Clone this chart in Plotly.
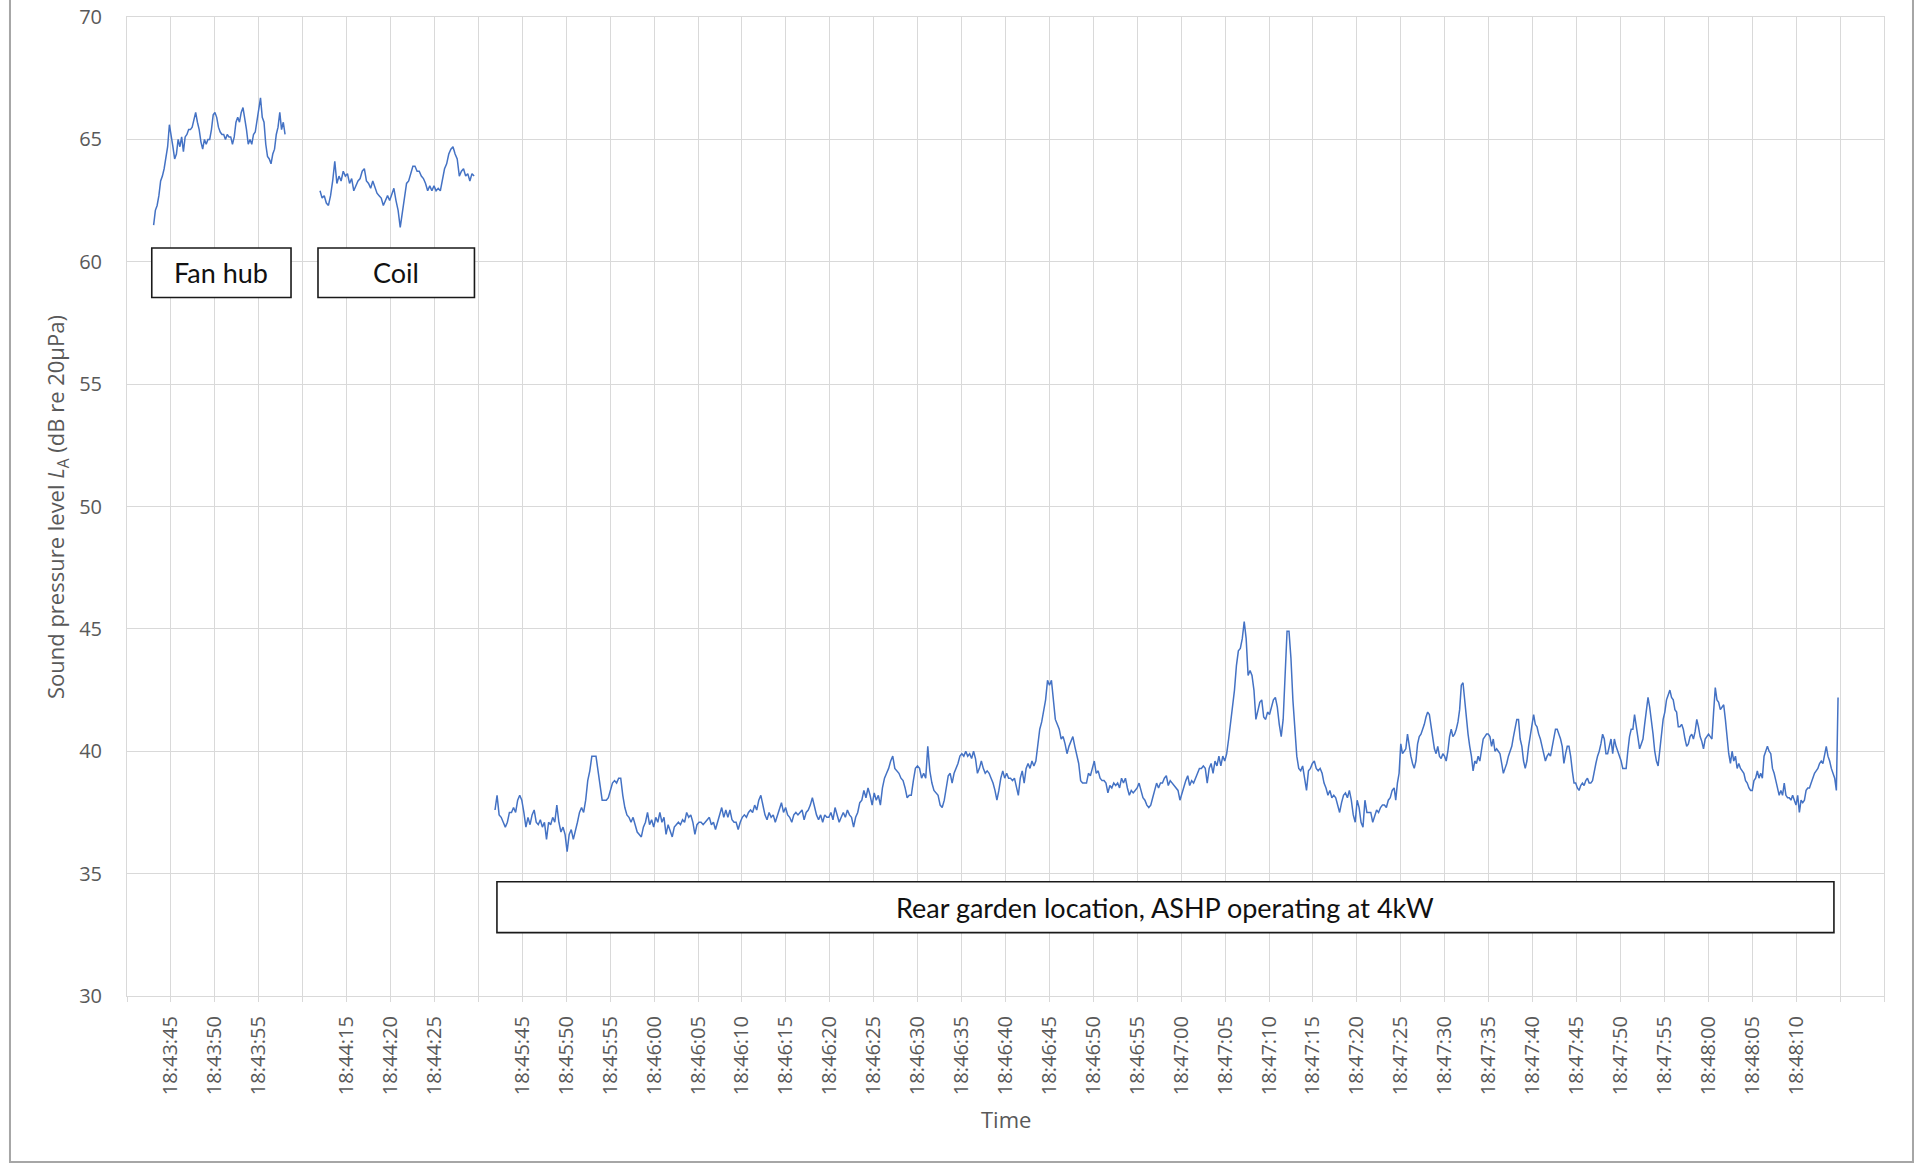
import numpy as np
import plotly.graph_objects as go

# ---------------- data ----------------
# Category-axis tick labels (every 5 s) and the category slot each label sits on
tick_labels = ["18:43:45", "18:43:50", "18:43:55",
               "18:44:15", "18:44:20", "18:44:25",
               "18:45:45", "18:45:50", "18:45:55",
               "18:46:00", "18:46:05", "18:46:10", "18:46:15", "18:46:20", "18:46:25",
               "18:46:30", "18:46:35", "18:46:40", "18:46:45", "18:46:50", "18:46:55",
               "18:47:00", "18:47:05", "18:47:10", "18:47:15", "18:47:20", "18:47:25",
               "18:47:30", "18:47:35", "18:47:40", "18:47:45", "18:47:50", "18:47:55",
               "18:48:00", "18:48:05", "18:48:10"]
tick_slots = [0, 1, 2, 4, 5, 6] + list(range(8, 38))

# Fan hub measurement (s relative to 18:43:45)
fan_time_span = (-1.97, 12.99)
fan_db = [61.5, 62.1, 62.3, 62.7, 63.3, 63.5, 63.8, 64.2, 64.7, 65.6, 65.2, 64.7, 64.2, 64.4,
          65.0, 64.7, 65.1, 64.5, 65.1, 65.2, 65.4, 65.4, 65.5, 65.8, 66.1, 65.7, 65.4, 64.9,
          64.6, 65.0, 64.8, 65.0, 65.0, 65.4, 66.0, 66.1, 65.9, 65.5, 65.3, 65.2, 65.2, 65.0,
          65.2, 65.1, 65.1, 64.8, 65.1, 65.7, 65.9, 65.7, 66.1, 66.3, 65.9, 65.4, 64.8, 65.0,
          64.8, 65.2, 65.3, 65.8, 66.3, 66.7, 65.9, 65.7, 64.8, 64.3, 64.2, 64.0, 64.4, 64.6,
          65.2, 65.5, 66.1, 65.4, 65.7, 65.2]

# Coil measurement (s relative to 18:44:15)
coil_time_span = (-3.03, 14.51)
coil_db = [62.9, 62.6, 62.7, 62.4, 62.3, 62.7, 63.3, 64.1, 63.2, 63.5, 63.3, 63.7, 63.5, 63.6,
           63.2, 63.4, 62.9, 63.1, 63.3, 63.4, 63.7, 63.8, 63.3, 63.2, 63.0, 63.3, 63.0, 62.8,
           62.7, 62.6, 62.3, 62.5, 62.7, 62.5, 62.8, 63.0, 62.5, 62.1, 61.4, 62.0, 62.5, 63.2,
           63.3, 63.6, 63.9, 63.9, 63.7, 63.7, 63.5, 63.4, 63.2, 62.9, 63.1, 62.9, 63.1, 62.9,
           63.0, 62.9, 63.3, 63.8, 64.0, 64.4, 64.6, 64.7, 64.4, 64.2, 63.5, 63.7, 63.8, 63.5,
           63.6, 63.3, 63.6, 63.5]

# Rear garden measurement, in three consecutive stretches (s relative to 18:45:45)
garden_a_span = (-3.11, 48.03)
garden_a_db = [37.6, 38.2, 37.4, 37.3, 37.1, 36.9, 37.1, 37.5, 37.5, 37.7, 37.5, 38.0, 38.2, 38.0,
               37.5, 36.9, 37.3, 37.0, 37.4, 37.6, 37.1, 37.0, 37.2, 36.9, 37.1, 36.4, 37.1, 37.0,
               37.3, 37.1, 37.8, 37.1, 36.7, 36.9, 36.6, 35.9, 36.6, 36.8, 36.4, 36.7, 37.1, 37.5,
               37.7, 37.5, 38.0, 38.8, 39.2, 39.8, 39.8, 39.8, 39.2, 38.5, 38.0, 38.0, 38.0, 38.1,
               38.4, 38.7, 38.8, 38.7, 38.9, 38.9, 38.2, 37.7, 37.4, 37.3, 37.1, 37.3, 37.0, 36.7,
               36.6, 36.5, 36.9, 37.1, 37.5, 37.0, 37.2, 36.9, 37.3, 37.1, 37.5, 37.1, 37.3, 36.6,
               37.0, 36.7, 36.5, 36.9, 37.0, 37.1, 37.0, 37.2, 37.1, 37.5, 37.3, 37.4, 37.1, 36.6,
               37.0, 37.1, 37.1, 37.0, 37.1, 37.2, 37.3, 37.0, 37.1, 36.8, 37.1, 37.5, 37.7, 37.3,
               37.6, 37.3, 37.6, 37.2, 37.1, 37.1, 36.8, 37.1, 37.3, 37.4, 37.3, 37.5, 37.6, 37.5,
               37.8, 37.6, 38.0, 38.2, 37.8, 37.4, 37.2, 37.5, 37.3, 37.4, 37.1, 37.4, 37.6, 37.9,
               37.5, 37.7, 37.4, 37.3, 37.1, 37.4, 37.5, 37.4, 37.5, 37.6, 37.2, 37.5, 37.6, 37.8,
               38.1, 37.7, 37.4, 37.2, 37.4, 37.1, 37.4, 37.3, 37.3, 37.5, 37.2, 37.7, 37.4, 37.1,
               37.3, 37.5, 37.3, 37.6, 37.4, 37.3, 36.9, 37.3, 37.5, 37.9, 38.0, 38.4, 38.1, 38.5,
               38.2, 37.8, 38.3, 38.0, 38.2, 37.8, 38.5, 38.9, 39.1, 39.3, 39.6, 39.8, 39.3, 39.2,
               39.1, 38.9, 38.8, 38.5, 38.1, 38.2, 38.2, 38.8, 39.3, 39.4, 39.3, 38.9, 39.1, 38.9,
               40.2, 39.2, 38.7, 38.4, 38.3, 38.2, 37.8, 37.7, 38.0]
garden_b_span = (48.26, 99.24)
garden_b_db = [38.5, 39.0, 39.1, 38.7, 39.1, 39.3, 39.5, 39.8, 39.9, 39.8, 40.0, 39.8, 39.9, 39.7,
               40.0, 39.7, 39.1, 39.3, 39.6, 39.3, 39.1, 39.2, 39.1, 38.9, 38.7, 38.4, 38.0, 38.4,
               38.9, 39.2, 38.9, 39.1, 38.9, 38.9, 38.8, 38.9, 38.6, 38.2, 38.9, 39.2, 38.7, 39.3,
               39.5, 39.3, 39.6, 39.4, 39.6, 40.2, 40.9, 41.2, 41.7, 42.1, 42.9, 42.7, 42.9, 42.1,
               41.3, 41.1, 40.9, 40.5, 40.6, 40.3, 39.9, 40.2, 40.4, 40.6, 40.2, 39.8, 39.5, 38.8,
               38.7, 38.7, 38.7, 39.1, 39.0, 39.3, 39.6, 39.1, 39.2, 38.9, 38.8, 38.8, 38.7, 38.3,
               38.6, 38.5, 38.7, 38.6, 38.7, 38.5, 38.9, 38.7, 38.9, 38.5, 38.2, 38.4, 38.3, 38.4,
               38.5, 38.7, 38.4, 38.1, 38.0, 37.8, 37.7, 37.8, 38.1, 38.4, 38.7, 38.5, 38.7, 38.7,
               38.9, 39.0, 38.6, 38.8, 38.7, 38.6, 38.5, 38.4, 38.0, 38.3, 38.6, 38.8, 39.0, 38.6,
               38.8, 38.7, 38.9, 39.1, 39.3, 39.3, 39.4, 39.3, 38.7, 39.3, 39.5, 39.1, 39.6, 39.4,
               39.8, 39.4, 39.8, 39.6, 39.9, 40.5, 41.1, 41.8, 42.5, 43.5, 44.1, 44.2, 44.6, 45.3,
               44.6, 43.1, 43.3, 43.1, 42.5, 41.3, 41.6, 42.0, 42.1, 41.4, 41.3, 41.6, 41.5, 41.8,
               42.1, 42.2, 41.8, 41.1, 40.6, 41.3, 43.5, 44.9, 44.9, 43.8, 42.1, 40.7, 39.8, 39.3,
               39.2, 39.4, 38.9, 38.4, 39.2, 39.3, 39.5, 39.6, 39.3, 39.2, 39.3, 39.1, 38.7, 38.5,
               38.2, 38.4, 38.1, 38.2, 38.1, 37.8, 37.5, 37.9, 38.2, 38.3, 38.1, 38.4, 38.0, 37.4,
               37.1, 38.0, 37.7, 37.1, 36.9, 38.0, 37.5, 37.5, 37.5, 37.1, 37.4, 37.6, 37.5, 37.7,
               37.8, 37.8, 37.7, 38.0, 38.1, 38.4, 38.5]
garden_c_span = (99.42, 149.77)
garden_c_db = [38.0, 38.7, 39.1, 40.3, 39.9, 40.0, 40.1, 40.7, 40.2, 39.8, 39.5, 39.3, 39.6, 40.3,
               40.6, 40.7, 40.9, 41.1, 41.4, 41.6, 41.5, 41.0, 40.7, 40.1, 39.9, 40.2, 39.8, 39.7,
               39.9, 39.8, 39.6, 40.0, 40.6, 40.9, 40.6, 40.7, 40.9, 41.2, 41.7, 42.7, 42.8, 42.0,
               41.4, 40.7, 40.2, 39.8, 39.2, 39.6, 39.5, 39.8, 39.6, 40.0, 40.5, 40.6, 40.7, 40.7,
               40.6, 40.2, 40.5, 40.0, 40.1, 40.0, 39.9, 39.5, 39.1, 39.3, 39.5, 39.8, 40.0, 40.2,
               40.6, 40.9, 41.3, 41.3, 40.5, 40.2, 39.6, 39.3, 39.6, 40.2, 40.7, 41.1, 41.5, 41.1,
               41.0, 40.7, 40.5, 40.2, 39.9, 39.6, 39.8, 39.9, 39.8, 40.2, 40.6, 40.9, 40.9, 40.7,
               40.5, 40.2, 39.5, 39.9, 40.2, 40.2, 39.8, 39.2, 38.7, 38.7, 38.5, 38.4, 38.6, 38.7,
               38.6, 38.8, 38.9, 38.7, 38.7, 38.8, 39.2, 39.5, 39.8, 40.0, 40.3, 40.7, 40.5, 39.9,
               39.9, 40.2, 40.5, 39.9, 40.5, 40.2, 40.0, 39.8, 39.6, 39.3, 39.3, 39.3, 40.0, 40.6,
               40.9, 40.9, 41.5, 41.0, 40.7, 40.1, 40.3, 40.5, 41.1, 41.8, 42.2, 41.8, 41.3, 40.7,
               40.0, 39.6, 39.4, 40.0, 40.7, 41.3, 41.6, 42.1, 42.3, 42.5, 42.2, 42.1, 41.7, 41.6,
               41.0, 41.0, 41.1, 40.9, 40.5, 40.2, 40.3, 40.6, 40.7, 40.5, 40.8, 41.3, 41.0, 40.6,
               40.4, 40.1, 40.5, 40.6, 40.7, 40.6, 40.5, 41.6, 42.6, 42.1, 42.0, 41.7, 41.8, 41.9,
               41.3, 40.5, 39.9, 39.5, 40.0, 39.6, 39.8, 39.3, 39.5, 39.3, 39.2, 39.1, 38.8, 38.7,
               38.5, 38.4, 38.4, 38.8, 38.9, 39.2, 38.9, 39.1, 38.9, 39.8, 40.0, 40.2, 40.0, 39.9,
               39.3, 39.1, 38.8, 38.5, 38.2, 38.4, 38.2, 38.7, 38.2, 38.1, 38.1, 38.0, 38.2, 38.0,
               37.8, 38.2, 37.5, 38.0, 37.9, 38.0, 38.4, 38.5, 38.5, 38.7, 38.9, 39.1, 39.2, 39.3,
               39.5, 39.6, 39.5, 39.8, 40.2, 39.8, 39.6, 39.3, 39.1, 38.9, 38.4, 42.2]

box_labels = ["Fan hub", "Coil", "Rear garden location, ASHP operating at 4kW"]

# ---------------- figure ----------------
LINE_COLOR = "#4472C4"
GRID = "#d9d9d9"
TXT = "#595959"
FONT = "Open Sans"

# each labelled tick is one 5-second category interval; segments anchored at their first label
seg_anchor = {"fan": 0.0, "coil": 20.0, "garden": 40.0}


def times(span, n):
    return np.linspace(span[0], span[1], n)


fig = go.Figure()
segments = [
    (seg_anchor["fan"], fan_time_span, fan_db),
    (seg_anchor["coil"], coil_time_span, coil_db),
    (seg_anchor["garden"], garden_a_span, garden_a_db),
    (seg_anchor["garden"], garden_b_span, garden_b_db),
    (seg_anchor["garden"], garden_c_span, garden_c_db),
]
gx = np.concatenate([seg_anchor["garden"] + times(s, len(v)) for _, s, v in segments[2:]])
gy = np.concatenate([v for _, _, v in segments[2:]])
for anchor, span, vals in segments[:2]:
    fig.add_trace(go.Scatter(x=anchor + times(span, len(vals)), y=vals, mode="lines",
                             line=dict(color=LINE_COLOR, width=1.5), showlegend=False,
                             hoverinfo="skip"))
fig.add_trace(go.Scatter(x=gx, y=gy, mode="lines", line=dict(color=LINE_COLOR, width=1.5),
                         showlegend=False, hoverinfo="skip"))

tickvals = [5 * s for s in tick_slots]

fig.update_layout(
    width=1916, height=1164, autosize=False,
    margin=dict(l=127, r=32, t=17, b=168, pad=0),
    plot_bgcolor="white", paper_bgcolor="white",
    font=dict(family=FONT, color=TXT),
    xaxis=dict(range=[-5, 195], tickmode="array", tickvals=tickvals, ticktext=tick_labels,
               tickangle=-90, showgrid=True, gridcolor=GRID, gridwidth=1,
               ticks="outside", ticklen=5, tickcolor=GRID, showline=True, linecolor=GRID,
               linewidth=1, mirror=True, zeroline=False, automargin=False,
               minor=dict(tick0=0, dtick=5, showgrid=True, gridcolor=GRID, gridwidth=1,
                          ticks="outside", ticklen=5, tickcolor=GRID),
               tickfont=dict(family=FONT, size=20, color=TXT), ticklabelstandoff=6),
    yaxis=dict(range=[30, 70], tick0=30, dtick=5, showgrid=True, gridcolor=GRID, gridwidth=1,
               ticks="", showline=True, linecolor=GRID, linewidth=1, mirror=True,
               zeroline=False, automargin=False, tickfont=dict(family=FONT, size=20, color=TXT),
               ticklabelstandoff=20),
)

# annotation boxes (data coords)
boxes = [(-2.18, 13.67, 58.54, 60.56), (16.74, 34.55, 58.54, 60.56), (37.11, 189.3, 32.59, 34.67)]
for (x0, x1, y0, y1), label in zip(boxes, box_labels):
    fig.add_shape(type="rect", x0=x0, x1=x1, y0=y0, y1=y1, xref="x", yref="y",
                  line=dict(color="#1a1a1a", width=1.6), fillcolor="white", layer="above")
    fig.add_annotation(x=(x0 + x1) / 2, y=(y0 + y1) / 2, xref="x", yref="y", text=label,
                       showarrow=False, font=dict(family="Lato", size=27, color="#111111"),
                       xanchor="center", yanchor="middle")

# axis titles
fig.add_annotation(x=0.5, y=-0.1256, xref="paper", yref="paper", text="Time",
                   showarrow=False, font=dict(family=FONT, size=22, color=TXT),
                   xanchor="center", yanchor="middle")
fig.add_annotation(x=-0.0398, y=0.4995, xref="paper", yref="paper",
                   text="Sound pressure level <i>L</i><sub>A</sub> (dB re 20µPa)",
                   textangle=-90, showarrow=False, font=dict(family=FONT, size=22, color=TXT),
                   xanchor="center", yanchor="middle")

# outer chart border
fig.add_shape(type="rect", xref="paper", yref="paper", x0=-0.0666, x1=1.0165,
              y0=-0.1696, y1=1.06, line=dict(color="#a6a6a6", width=2), layer="below")

fig.write_html("out.html", config={"displayModeBar": False},
               post_script="document.body.style.margin='0';")
